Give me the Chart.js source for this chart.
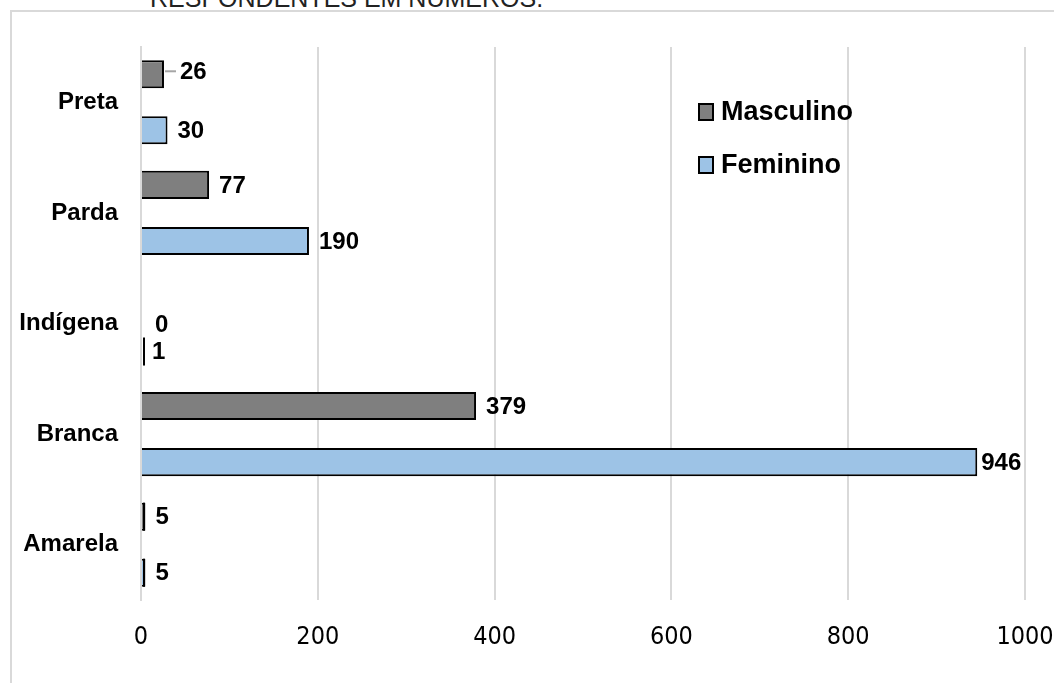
<!DOCTYPE html>
<html>
<head>
<meta charset="utf-8">
<script src="https://cdn.jsdelivr.net/npm/chart.js@4.4.1/dist/chart.umd.min.js"></script>
<style>
  html, body { margin: 0; padding: 0; background: #fff; overflow: hidden; }
  #wrap { position: relative; width: 1054px; height: 683px; }
  #frame { position: absolute; left: 10px; top: 10px; width: 1200px; height: 800px; border: 2px solid #d9d9d9; box-sizing: border-box; }
  #title { position: absolute; left: 150px; top: -16px; font: 25px "Liberation Sans", Arial, sans-serif; color: #222; white-space: nowrap; }
  canvas { position: absolute; left: 0; top: 0; }
</style>
</head>
<body>
<div id="wrap">
  <div id="frame"></div>
  <div id="title">RESPONDENTES EM NÚMEROS.</div>
  <canvas id="chart" width="1054" height="683"></canvas>
</div>
<script>
// データ
const categories = ['Preta', 'Parda', 'Indígena', 'Branca', 'Amarela'];
const masculino = [26, 77, 0, 379, 5];
const feminino = [30, 190, 1, 946, 5];
const xTicks = [0, 200, 400, 600, 800, 1000];

// ラベルの微調整 (datasetIndex-index)
const labelNudge = {
    '0-0': { dx: 6, dy: -3, leader: true },
    '0-2': { dx: 4, dy: 29 },
    '2-3': { dx: -6, dy: 0 }
};

const boldFont = '"Liberation Sans", Arial, sans-serif';

// データラベル
const valueLabels = {
    id: 'valueLabels',
    afterDatasetsDraw(c) {
        const ctx = c.ctx;
        ctx.save();
        ctx.font = 'bold 24px ' + boldFont;
        ctx.fillStyle = '#000';
        ctx.textBaseline = 'middle';
        ctx.textAlign = 'left';
        c.data.datasets.forEach((ds, di) => {
            if (ds.spacer) return;
            c.getDatasetMeta(di).data.forEach((bar, i) => {
                const n = labelNudge[di + '-' + i] || { dx: 0, dy: 0 };
                const x = bar.x + 10 + n.dx;
                const y = bar.y + n.dy;
                if (n.leader) {
                    ctx.strokeStyle = '#a6a6a6';
                    ctx.lineWidth = 2;
                    ctx.beginPath();
                    ctx.moveTo(bar.x + 1, y);
                    ctx.lineTo(x - 4, y);
                    ctx.stroke();
                }
                // 細いバー（値が小さい）は黒い線で表示
                if (ds.data[i] > 0 && bar.x - bar.base < 4) {
                    ctx.fillRect(bar.base + 1, bar.y - bar.height / 2, 2, bar.height);
                }
                ctx.fillText(String(ds.data[i]), x, y + 1);
            });
        });
        ctx.restore();
    }
};

// 凡例
const innerLegend = {
    id: 'innerLegend',
    afterDraw(c) {
        const ctx = c.ctx;
        const items = [
            { text: 'Masculino', color: '#7f7f7f', y: 112 },
            { text: 'Feminino', color: '#9dc3e6', y: 165 }
        ];
        ctx.save();
        ctx.font = 'bold 27px ' + boldFont;
        ctx.textBaseline = 'middle';
        items.forEach(it => {
            ctx.fillStyle = it.color;
            ctx.fillRect(699, it.y - 8, 14, 16);
            ctx.strokeStyle = '#000';
            ctx.lineWidth = 2;
            ctx.strokeRect(699, it.y - 8, 14, 16);
            ctx.fillStyle = '#000';
            ctx.fillText(it.text, 721, it.y + 1);
        });
        ctx.restore();
    }
};

const ctx = document.getElementById('chart').getContext('2d');
const chart = new Chart(ctx, {
    type: 'bar',
    data: {
        labels: categories,
        datasets: [{
            label: 'Masculino',
            data: masculino,
            backgroundColor: '#7f7f7f',
            borderColor: '#000',
            borderWidth: 2
        }, {
            label: '',
            spacer: true,
            data: categories.map(() => null)
        }, {
            label: 'Feminino',
            data: feminino,
            backgroundColor: '#9dc3e6',
            borderColor: '#000',
            borderWidth: 2
        }]
    },
    options: {
        indexAxis: 'y',
        responsive: false,
        animation: false,
        layout: { padding: { top: 47, right: 29, left: 0, bottom: 0 } },
        categoryPercentage: 0.76,
        barPercentage: 1.0,
        plugins: {
            legend: { display: false },
            tooltip: { enabled: false }
        },
        scales: {
            x: {
                min: 0,
                max: 1000,
                afterBuildTicks(s) { s.ticks = xTicks.map(v => ({ value: v })); },
                afterFit(s) { s.height = 83; s.paddingLeft = 0; s.paddingRight = 0; },
                grid: { color: '#d9d9d9', lineWidth: 2, drawTicks: false },
                border: { display: false },
                ticks: {
                    padding: 22,
                    color: '#000',
                    callback: v => String(v),
                    font: { family: '"Liberation Sans Narrow", "Arial Narrow", "DejaVu Sans Condensed", sans-serif', size: 25 }
                }
            },
            y: {
                afterFit(s) { s.width = 141; s.paddingTop = 0; s.paddingBottom = 0; },
                grid: { display: false, drawTicks: false },
                border: { color: '#d9d9d9', width: 2 },
                ticks: {
                    padding: 23,
                    color: '#000',
                    font: { family: boldFont, size: 24, weight: 'bold' }
                }
            }
        }
    },
    plugins: [valueLabels, innerLegend]
});
</script>
</body>
</html>
